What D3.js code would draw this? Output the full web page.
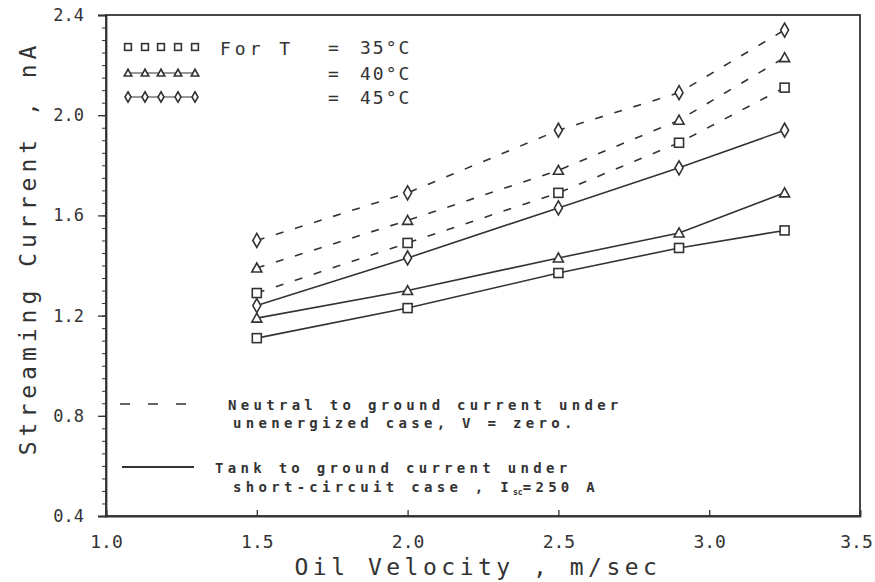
<!DOCTYPE html>
<html><head><meta charset="utf-8">
<script src="https://cdn.jsdelivr.net/npm/d3@7"></script>
<style>body{margin:0;background:#fff}svg{display:block}text{font-family:"DejaVu Sans Mono","Liberation Mono",monospace;fill:#333}</style>
</head><body><svg id="c" width="875" height="582"></svg>
<script>
const velocity = [1.5, 2.0, 2.5, 2.9, 3.25];
// Neutral to ground current, unenergized (dashed)
const dashed35 = [1.29, 1.49, 1.69, 1.89, 2.11];
const dashed40 = [1.39, 1.58, 1.78, 1.98, 2.23];
const dashed45 = [1.50, 1.69, 1.94, 2.09, 2.34];
// Tank to ground current, short-circuit (solid)
const solid35 = [1.11, 1.23, 1.37, 1.47, 1.54];
const solid40 = [1.19, 1.30, 1.43, 1.53, 1.69];
const solid45 = [1.24, 1.43, 1.63, 1.79, 1.94];
const xTicks = [1.0, 1.5, 2.0, 2.5, 3.0, 3.5];
const yTicks = [0.4, 0.8, 1.2, 1.6, 2.0, 2.4];
const tempLabels = ["35°C", "40°C", "45°C"];

const series = [
  {v: dashed35, shape: "square", dash: true},
  {v: dashed40, shape: "triangle", dash: true},
  {v: dashed45, shape: "diamond", dash: true},
  {v: solid35, shape: "square", dash: false},
  {v: solid40, shape: "triangle", dash: false},
  {v: solid45, shape: "diamond", dash: false}
];

const svg = d3.select("#c");
const L = 106, R = 860, T = 15, B = 516;
const x = d3.scaleLinear().domain([1.0, 3.5]).range([L, R]);
const y = d3.scaleLinear().domain([0.4, 2.4]).range([B, T]);
const ink = "#333";

// frame
svg.append("rect").attr("x", L).attr("y", T).attr("width", R - L).attr("height", B - T)
  .attr("fill", "none").attr("stroke", ink).attr("stroke-width", 1.8);

// y axis minor ticks
const gyMinor = svg.append("g").attr("transform", `translate(${L},0)`)
  .call(d3.axisLeft(y).tickValues(d3.range(0.4, 2.401, 0.05)).tickSize(4).tickFormat(""));
gyMinor.select(".domain").remove();
gyMinor.selectAll("line").attr("stroke", ink);
// y axis major
const gy = svg.append("g").attr("transform", `translate(${L},0)`)
  .call(d3.axisLeft(y).tickValues(yTicks).tickSize(8).tickPadding(14).tickFormat(d3.format(".1f")));
gy.select(".domain").attr("stroke", ink).attr("stroke-width", 1.8);
gy.selectAll("line").attr("stroke", ink).attr("stroke-width", 1.3);
gy.selectAll("text").attr("font-size", 17).attr("fill", "#555").style("font-family", "'DejaVu Sans Mono',monospace");

// x axis
const gx = svg.append("g").attr("transform", `translate(0,${B})`)
  .call(d3.axisBottom(x).tickValues(xTicks).tickSize(-6).tickPadding(19).tickFormat(d3.format(".1f")));
gx.select(".domain").attr("stroke", ink).attr("stroke-width", 1.8);
gx.selectAll("line").attr("stroke", ink).attr("stroke-width", 1.3);
gx.selectAll("text").attr("font-size", 18).attr("fill", "#555").style("font-family", "'DejaVu Sans Mono',monospace")
  .attr("dx", d => d === 3.5 ? -4 : 0);

// axis titles
svg.append("text").attr("x", 478).attr("y", 575).attr("text-anchor", "middle")
  .attr("font-size", 23).attr("letter-spacing", 4.5).text("Oil Velocity , m/sec");
svg.append("text").attr("transform", "translate(36,248) rotate(-90)").attr("text-anchor", "middle")
  .attr("font-size", 23).attr("letter-spacing", 5).text("Streaming Current , nA");

// markers
function marker(g, shape, cx, cy, s) {
  s = s || 1;
  if (shape === "square") {
    g.append("rect").attr("x", cx - 4.5 * s).attr("y", cy - 4.5 * s).attr("width", 9 * s).attr("height", 9 * s)
      .attr("fill", "#fff").attr("stroke", ink).attr("stroke-width", 1.6);
  } else if (shape === "triangle") {
    g.append("path").attr("d", `M${cx},${cy - 5 * s}L${cx + 5 * s},${cy + 4 * s}L${cx - 5 * s},${cy + 4 * s}Z`)
      .attr("fill", "#fff").attr("stroke", ink).attr("stroke-width", 1.6);
  } else {
    g.append("path").attr("d", `M${cx},${cy - 7 * s}L${cx + 4 * s},${cy}L${cx},${cy + 7 * s}L${cx - 4 * s},${cy}Z`)
      .attr("fill", "#fff").attr("stroke", ink).attr("stroke-width", 1.6);
  }
}

const line = d3.line().x((d, i) => x(velocity[i])).y(d => y(d));
const gLines = svg.append("g");
series.forEach(s => {
  gLines.append("path").attr("d", line(s.v)).attr("fill", "none").attr("stroke", ink)
    .attr("stroke-width", 1.6).attr("stroke-dasharray", s.dash ? "8,12" : null);
});
const gMarks = svg.append("g");
series.forEach(s => {
  s.v.forEach((d, i) => marker(gMarks, s.shape, x(velocity[i]), y(d)));
});

// top-left legend
const lg = svg.append("g");
const shapes = ["square", "triangle", "diamond"];
const rowY = [47, 73, 97];
shapes.forEach((sh, r) => {
  const xs = [128, 145, 161, 178, 195];
  if (r > 0) lg.append("line").attr("x1", xs[0]).attr("x2", xs[4]).attr("y1", rowY[r]).attr("y2", rowY[r])
    .attr("stroke", ink).attr("stroke-width", 1.2);
  xs.forEach(px => marker(lg, sh, px, rowY[r], 0.75));
});
lg.append("text").attr("x", 220).attr("y", 55).attr("font-size", 18).attr("letter-spacing", 4).text("For T");
tempLabels.forEach((t, r) => {
  lg.append("text").attr("x", 328).attr("y", rowY[r] + 7).attr("font-size", 18).text("=");
  lg.append("text").attr("x", 360).attr("y", rowY[r] + 7).attr("font-size", 18).attr("letter-spacing", 2).text(t);
});

// bottom legend
const bl = svg.append("g");
bl.append("line").attr("x1", 120).attr("x2", 188).attr("y1", 404).attr("y2", 404)
  .attr("stroke", ink).attr("stroke-width", 1.6).attr("stroke-dasharray", "10,18");
bl.append("line").attr("x1", 122).attr("x2", 194).attr("y1", 467).attr("y2", 467)
  .attr("stroke", ink).attr("stroke-width", 1.8);
const fs = 14, ls = 4.3;
bl.append("text").attr("x", 228).attr("y", 410).attr("font-size", fs).attr("letter-spacing", ls).attr("font-weight", "bold").text("Neutral to ground current under");
bl.append("text").attr("x", 233).attr("y", 428).attr("font-size", fs).attr("letter-spacing", ls).attr("font-weight", "bold").text("unenergized case, V = zero.");
bl.append("text").attr("x", 215).attr("y", 473).attr("font-size", fs).attr("letter-spacing", ls).attr("font-weight", "bold").text("Tank to ground current under");
const t4 = bl.append("text").attr("x", 233).attr("y", 492).attr("font-size", fs).attr("letter-spacing", ls).attr("font-weight", "bold");
t4.append("tspan").text("short-circuit case , I");
t4.append("tspan").attr("font-size", 8).attr("dy", 3).attr("letter-spacing", 0).text("sc");
t4.append("tspan").attr("dy", -3).text("=250 A");
</script></body></html>
